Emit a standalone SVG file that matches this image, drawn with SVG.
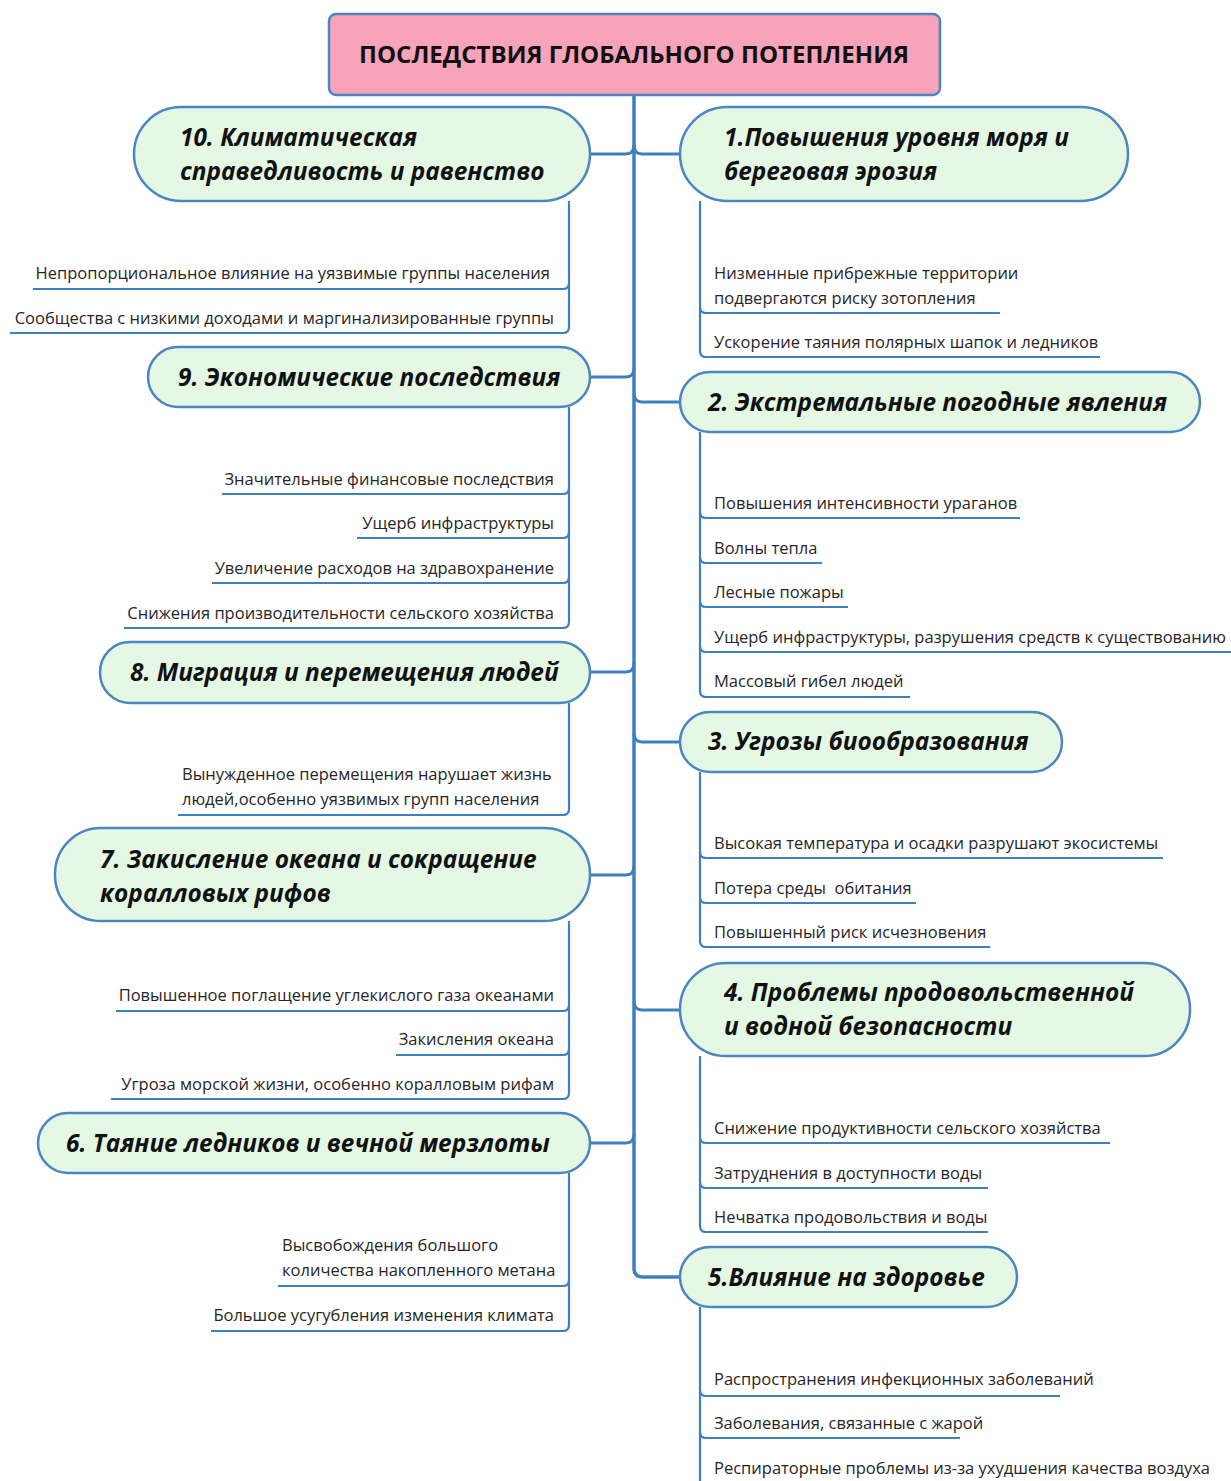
<svg xmlns="http://www.w3.org/2000/svg" width="1231" height="1481" viewBox="0 0 1231 1481">
<style>
.bg{fill:#ffffff}
.title{fill:#f7a3ba;stroke:#4b86c0;stroke-width:2.5}
.node rect{fill:#e4f8e4;stroke:#4b86c0;stroke-width:2.5}
.nt{font-family:"Open Sans","DejaVu Sans",sans-serif;font-weight:bold;font-style:italic;font-size:24.4px;fill:#111}
.tt{font-family:"Open Sans","DejaVu Sans",sans-serif;font-weight:bold;font-size:23px;fill:#111}
.lt{font-family:"Open Sans","DejaVu Sans",sans-serif;font-size:16.5px;fill:#262626;white-space:pre}
.lr{text-anchor:end}
.trunk{fill:none;stroke:#3f7fbd;stroke-width:3.5}
.br{fill:none;stroke:#3f7fbd;stroke-width:3}
.lf{fill:none;stroke:#3f7fbd;stroke-width:2.2}
</style>
<rect class="bg" x="0" y="0" width="1231" height="1481"/>

<g id="connectors">
  <path class="trunk" d="M634 95 L634 1268 Q634 1277 643 1277 L681 1277"/>
  <path class="br" d="M634 145 Q634 154 626 154 L590 154"/>
  <path class="br" d="M634 368 Q634 377 626 377 L590 377"/>
  <path class="br" d="M634 663 Q634 672 626 672 L590 672"/>
  <path class="br" d="M634 866 Q634 875 626 875 L590 875"/>
  <path class="br" d="M634 1134 Q634 1143 626 1143 L590 1143"/>
  <path class="br" d="M634 145 Q634 154 642 154 L680 154"/>
  <path class="br" d="M634 393 Q634 402 642 402 L680 402"/>
  <path class="br" d="M634 733 Q634 742 642 742 L680 742"/>
  <path class="br" d="M634 1001 Q634 1010 642 1010 L680 1010"/>

  <path class="lf" d="M569 201 L569 283 Q569 289 563 289 L33 289"/>
  <path class="lf" d="M569 283 L569 327 Q569 333 563 333 L10 333"/>
  <path class="lf" d="M569 407 L569 488 Q569 494 563 494 L222 494"/>
  <path class="lf" d="M569 488 L569 532 Q569 538 563 538 L357 538"/>
  <path class="lf" d="M569 532 L569 577 Q569 583 563 583 L212 583"/>
  <path class="lf" d="M569 577 L569 622 Q569 628 563 628 L124 628"/>
  <path class="lf" d="M569 703 L569 809 Q569 815 563 815 L178 815"/>
  <path class="lf" d="M569 921 L569 1005 Q569 1011 563 1011 L116 1011"/>
  <path class="lf" d="M569 1005 L569 1049 Q569 1055 563 1055 L396 1055"/>
  <path class="lf" d="M569 1049 L569 1093 Q569 1099 563 1099 L111 1099"/>
  <path class="lf" d="M569 1173 L569 1280 Q569 1286 563 1286 L278 1286"/>
  <path class="lf" d="M569 1280 L569 1325 Q569 1331 563 1331 L211 1331"/>

  <path class="lf" d="M700 201 L700 307 Q700 313 706 313 L1000 313"/>
  <path class="lf" d="M700 307 L700 351 Q700 357 706 357 L1100 357"/>
  <path class="lf" d="M700 432 L700 512 Q700 518 706 518 L1020 518"/>
  <path class="lf" d="M700 512 L700 557 Q700 563 706 563 L822 563"/>
  <path class="lf" d="M700 557 L700 601 Q700 607 706 607 L848 607"/>
  <path class="lf" d="M700 601 L700 646 Q700 652 706 652 L1231 652"/>
  <path class="lf" d="M700 646 L700 691 Q700 697 706 697 L910 697"/>
  <path class="lf" d="M700 772 L700 852 Q700 858 706 858 L1163 858"/>
  <path class="lf" d="M700 852 L700 897 Q700 903 706 903 L916 903"/>
  <path class="lf" d="M700 897 L700 941 Q700 947 706 947 L990 947"/>
  <path class="lf" d="M700 1056 L700 1137 Q700 1143 706 1143 L1110 1143"/>
  <path class="lf" d="M700 1137 L700 1182 Q700 1188 706 1188 L988 1188"/>
  <path class="lf" d="M700 1182 L700 1226 Q700 1232 706 1232 L988 1232"/>
  <path class="lf" d="M700 1307 L700 1390 Q700 1396 706 1396 L1060 1396"/>
  <path class="lf" d="M700 1390 L700 1432 Q700 1438 706 1438 L960 1438"/>
  <path class="lf" d="M700 1432 L700 1481"/>
</g>

<g id="title">
  <rect class="title" x="329" y="14" width="611" height="81" rx="7"/>
  <text class="tt" x="634" y="63" text-anchor="middle" textLength="550" lengthAdjust="spacingAndGlyphs">ПОСЛЕДСТВИЯ ГЛОБАЛЬНОГО ПОТЕПЛЕНИЯ</text>
</g>

<g id="node10" class="node">
  <rect x="134" y="107" width="456" height="94" rx="47"/>
  <text class="nt" x="180" y="146">10. Климатическая</text>
  <text class="nt" x="180" y="180">справедливость и равенство</text>
</g>
<g id="node9" class="node">
  <rect x="148" y="347" width="442" height="60" rx="30"/>
  <text class="nt" x="178" y="386">9. Экономические последствия</text>
</g>
<g id="node8" class="node">
  <rect x="100" y="642" width="490" height="61" rx="30"/>
  <text class="nt" x="130" y="681">8. Миграция и перемещения людей</text>
</g>
<g id="node7" class="node">
  <rect x="55" y="828" width="535" height="93" rx="46"/>
  <text class="nt" x="100" y="868">7. Закисление океана и сокращение</text>
  <text class="nt" x="100" y="902">коралловых рифов</text>
</g>
<g id="node6" class="node">
  <rect x="38" y="1113" width="552" height="60" rx="30"/>
  <text class="nt" x="66" y="1152">6. Таяние ледников и вечной мерзлоты</text>
</g>

<g id="node1" class="node">
  <rect x="680" y="107" width="448" height="94" rx="47"/>
  <text class="nt" x="724" y="146">1.Повышения уровня моря и</text>
  <text class="nt" x="724" y="180">береговая эрозия</text>
</g>
<g id="node2" class="node">
  <rect x="680" y="372" width="520" height="60" rx="30"/>
  <text class="nt" x="708" y="411">2. Экстремальные погодные явления</text>
</g>
<g id="node3" class="node">
  <rect x="680" y="712" width="382" height="60" rx="30"/>
  <text class="nt" x="708" y="750">3. Угрозы биообразования</text>
</g>
<g id="node4" class="node">
  <rect x="680" y="963" width="510" height="93" rx="46"/>
  <text class="nt" x="724" y="1001">4. Проблемы продовольственной</text>
  <text class="nt" x="724" y="1035">и водной безопасности</text>
</g>
<g id="node5" class="node">
  <rect x="680" y="1247" width="337" height="60" rx="30"/>
  <text class="nt" x="708" y="1286">5.Влияние на здоровье</text>
</g>

<g id="leaves">
  <text class="lt lr" x="550" y="279">Непропорциональное влияние на уязвимые группы населения</text>
  <text class="lt lr" x="554" y="324">Сообщества с низкими доходами и маргинализированные группы</text>
  <text class="lt lr" x="554" y="485">Значительные финансовые последствия</text>
  <text class="lt lr" x="554" y="529">Ущерб инфраструктуры</text>
  <text class="lt lr" x="554" y="574">Увеличение расходов на здравохранение</text>
  <text class="lt lr" x="554" y="619">Снижения производительности сельского хозяйства</text>
  <text class="lt" x="182" y="780">Вынужденное перемещения нарушает жизнь</text>
  <text class="lt" x="182" y="805">людей,особенно уязвимых групп населения</text>
  <text class="lt lr" x="554" y="1001">Повышенное поглащение углекислого газа океанами</text>
  <text class="lt lr" x="554" y="1045">Закисления океана</text>
  <text class="lt lr" x="554" y="1090">Угроза морской жизни, особенно коралловым рифам</text>
  <text class="lt" x="282" y="1251">Высвобождения большого</text>
  <text class="lt" x="282" y="1276">количества накопленного метана</text>
  <text class="lt lr" x="554" y="1321">Большое усугубления изменения климата</text>

  <text class="lt" x="714" y="279">Низменные прибрежные территории</text>
  <text class="lt" x="714" y="304">подвергаются риску зотопления</text>
  <text class="lt" x="714" y="348">Ускорение таяния полярных шапок и ледников</text>
  <text class="lt" x="714" y="509">Повышения интенсивности ураганов</text>
  <text class="lt" x="714" y="554">Волны тепла</text>
  <text class="lt" x="714" y="598">Лесные пожары</text>
  <text class="lt" x="714" y="643">Ущерб инфраструктуры, разрушения средств к существованию</text>
  <text class="lt" x="714" y="687">Массовый гибел людей</text>
  <text class="lt" x="714" y="849">Высокая температура и осадки разрушают экосистемы</text>
  <text class="lt" x="714" y="894">Потера среды  обитания</text>
  <text class="lt" x="714" y="938">Повышенный риск исчезновения</text>
  <text class="lt" x="714" y="1134">Снижение продуктивности сельского хозяйства</text>
  <text class="lt" x="714" y="1179">Затруднения в доступности воды</text>
  <text class="lt" x="714" y="1223">Нечватка продовольствия и воды</text>
  <text class="lt" x="714" y="1385">Распространения инфекционных заболеваний</text>
  <text class="lt" x="714" y="1429">Заболевания, связанные с жарой</text>
  <text class="lt" x="714" y="1474">Респираторные проблемы из-за ухудшения качества воздуха</text>
</g>
</svg>
